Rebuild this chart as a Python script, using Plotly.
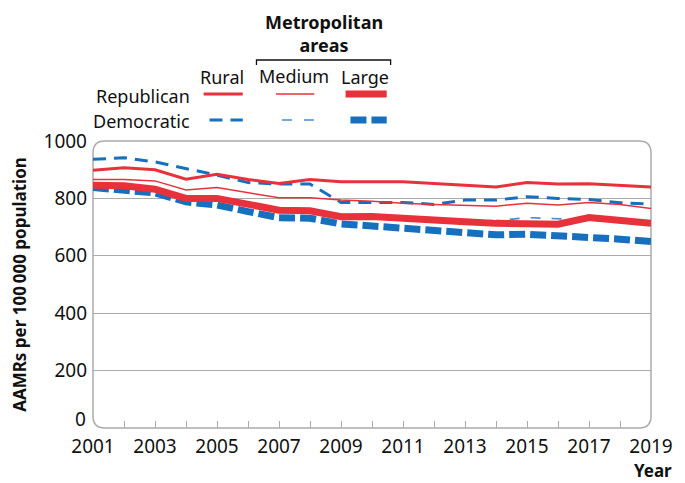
import plotly.graph_objects as go

# Age adjusted mortality rates per 100 000
years = list(range(2001, 2020))

rep_rural = [898, 907, 900, 867, 884, 866, 852, 866, 858, 858, 858, 852, 846, 840, 855, 850, 851, 846, 840]
rep_medium = [866, 866, 861, 829, 838, 820, 802, 802, 794, 790, 783, 779, 777, 773, 783, 777, 786, 779, 765]
rep_large = [846, 844, 832, 800, 800, 780, 759, 757, 736, 737, 733, 725, 719, 713, 713, 710, 733, 722, 713]

dem_rural = [936, 942, 927, 904, 881, 855, 850, 850, 786, 786, 786, 779, 794, 794, 806, 800, 796, 785, 780]
dem_medium = [843, 841, 829, 797, 797, 777, 756, 754, 733, 734, 734, 731, 727, 722, 733, 728, 725, 716, 710]
dem_large = [838, 831, 819, 788, 777, 754, 733, 731, 711, 704, 696, 688, 682, 673, 675, 672, 664, 658, 650]

y_ticks = [200, 400, 600, 800, 1000]

RED = "#E8313A"
BLUE = "#1670BE"
BLUE_LIGHT = "#3F8FD2"
GREY = "#ABABAB"
FONT = "Noto Sans"

# page is offset by the 8px body margin, so the figure is 8px smaller
OFF = 8
W, H = 685, 483
L, R, T, B = 92, 23, 141, 55
PW, PH = W - L - R, H - T - B


def px(x, y):
    """page pixel position -> paper coords"""
    return (x - L) / PW, (H - B - y) / PH


fig = go.Figure()

series = [
    (dem_large, BLUE, 7, "16px,5px"),
    (dem_medium, BLUE_LIGHT, 1.6, "10px,11px"),
    (dem_rural, BLUE, 3, "13px,8px"),
    (rep_large, RED, 7, "solid"),
    (rep_medium, RED, 1.5, "solid"),
    (rep_rural, RED, 3, "solid"),
]
for vals, col, w, dash in series:
    fig.add_trace(go.Scatter(
        x=years, y=vals, mode="lines",
        line=dict(color=col, width=w, dash=dash),
        showlegend=False, hoverinfo="skip",
    ))

# rounded plot frame
rx, ry = 12 / PW, 12 / PH
path = (f"M 0,{ry} L 0,{1-ry} Q 0,1 {rx},1 L {1-rx},1 Q 1,1 1,{1-ry} "
        f"L 1,{ry} Q 1,0 {1-rx},0 L {rx},0 Q 0,0 0,{ry} Z")
fig.add_shape(type="path", path=path, xref="paper", yref="paper",
              line=dict(color=GREY, width=1.5), layer="below")

# legend: header texts
anns = [
    ("<b>Metropolitan<br>areas</b>", 328, 33, "center"),
    ("Rural", 224, 77, "center"),
    ("Medium", 297, 76, "center"),
    ("Large", 370, 77, "center"),
    ("Republican", 193, 96, "right"),
    ("Democratic", 193, 121, "right"),
]
for txt, x, y, al in anns:
    xp, yp = px(x, y)
    fig.add_annotation(text=txt, x=xp, y=yp, xref="paper", yref="paper",
                       xanchor=al, yanchor="middle", showarrow=False,
                       font=dict(size=18, color="#111", family=FONT))

# bracket over metropolitan columns
bx0, by = px(259, 60)
bx1, _ = px(396, 60)
_, by1 = px(0, 65)
fig.add_shape(type="path", xref="paper", yref="paper",
              path=f"M {bx0},{by1} L {bx0},{by} L {bx1},{by} L {bx1},{by1}",
              line=dict(color="#111", width=1.3))

# legend samples
samples = [
    (205, 245, 94, RED, 3, "solid"),
    (279, 318, 94, RED, 1.5, "solid"),
    (350, 392, 94, RED, 7, "solid"),
    (211, 245, 120, BLUE, 3, "13px,8px"),
    (285, 318, 120, BLUE_LIGHT, 1.6, "10px,12px"),
    (355, 392, 120, BLUE, 7, "16px,5px"),
]
for x0, x1, y, col, w, dash in samples:
    a, b = px(x0, y)
    c, _ = px(x1, y)
    fig.add_shape(type="line", xref="paper", yref="paper", x0=a, x1=c, y0=b, y1=b,
                  line=dict(color=col, width=w, dash=dash))

# "0" label sits a little above the baseline in the original
fig.add_annotation(text="0", x=0, y=0, xref="paper", yref="y", xanchor="right",
                   yanchor="middle", xshift=-5, yshift=9, showarrow=False,
                   font=dict(size=19, color="#111", family=FONT))

xp, yp = px(685, 471)
fig.add_annotation(text="<b>Year</b>", x=xp, y=yp, xref="paper", yref="paper",
                   xanchor="right", yanchor="middle", showarrow=False,
                   font=dict(size=17, color="#111", family=FONT))

fig.update_layout(
    width=W - OFF, height=H - OFF,
    margin=dict(l=L - OFF, r=R, t=T - OFF, b=B),
    paper_bgcolor="white", plot_bgcolor="white",
    font=dict(family=FONT, size=19, color="#111"),
    xaxis=dict(
        range=[2001, 2019], tickvals=years[::2], showgrid=False, zeroline=False,
        showline=False, ticks="inside", ticklen=7, tickcolor=GREY, tickwidth=1,
        minor=dict(dtick=1, tick0=2001, ticks="inside", ticklen=7, tickcolor=GREY, showgrid=False),
        tickfont=dict(size=19), ticklabelstandoff=5,
    ),
    yaxis=dict(
        range=[0, 1000], tickvals=y_ticks, showgrid=False,
        zeroline=False, showline=False, ticks="", ticklabelstandoff=5,
        minor=dict(tickvals=y_ticks[:-1], showgrid=True, gridcolor=GREY,
                   gridwidth=1.2, ticks=""),
        title=dict(text="<b>AAMRs per 100\u2009000 population</b>",
                   font=dict(size=17), standoff=12),
        tickfont=dict(size=19),
    ),
)

fig.write_html("out.html")
